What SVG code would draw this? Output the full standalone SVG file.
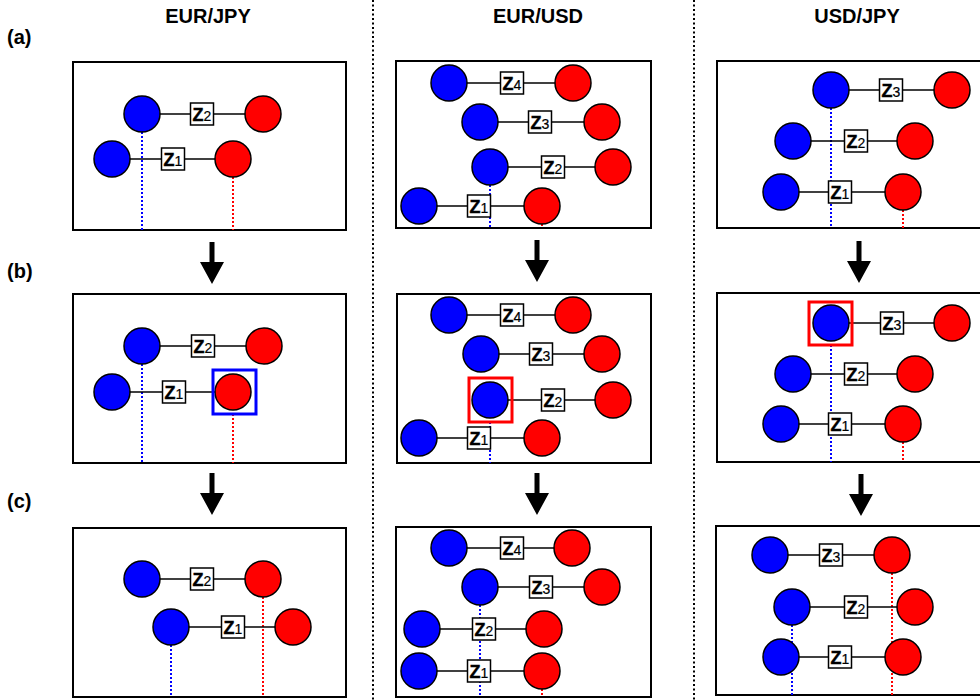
<svg xmlns="http://www.w3.org/2000/svg" xmlns:xlink="http://www.w3.org/1999/xlink" width="980" height="700" viewBox="0 0 980 700">
<style>
.b{fill:#0000ff;stroke:#000;stroke-width:1.5}
.r{fill:#ff0000;stroke:#000;stroke-width:1.5}
.zb{fill:#fff;stroke:#000;stroke-width:1.5}
.zt{font-family:"Liberation Sans",Arial,sans-serif;font-weight:bold;font-size:18px;text-anchor:middle;fill:#000;stroke:#000;stroke-width:0.4}
.zd{font-weight:normal;font-size:14px;stroke-width:0.2}
.ln{stroke:#000;stroke-width:1.5;fill:none}
.db{stroke:#0000ff;stroke-width:2;stroke-dasharray:2 2;fill:none}
.dr{stroke:#ff0000;stroke-width:2;stroke-dasharray:2 2;fill:none}
.panel{fill:none;stroke:#000;stroke-width:2}
.div{stroke:#000;stroke-width:2;stroke-dasharray:2 2.5;fill:none}
.hb{fill:none;stroke:#0000ff;stroke-width:3}
.hr{fill:none;stroke:#ff0000;stroke-width:3}
.hd{font-family:"Liberation Sans",Arial,sans-serif;font-weight:bold;font-size:20px;text-anchor:middle;fill:#000}
.lb{font-family:"Liberation Sans",Arial,sans-serif;font-weight:bold;font-size:20px;fill:#000}
.arr{fill:#000}
</style>
<defs>
<path id="arrow" class="arr" d="M-2.5,-42 H2.5 V-22 H12 L0,0 L-12,-22 H-2.5 Z"/>
</defs>
<rect x="0" y="0" width="980" height="700" fill="#fff"/>

<g id="dividers">
<line class="div" x1="373" y1="0" x2="373" y2="700"/>
<line class="div" x1="694" y1="0" x2="694" y2="700"/>
</g>

<g id="headers">
<text class="hd" x="208" y="23">EUR/JPY</text>
<text class="hd" x="538" y="23">EUR/USD</text>
<text class="hd" x="857" y="23">USD/JPY</text>
<text class="lb" x="7" y="44">(a)</text>
<text class="lb" x="7" y="278">(b)</text>
<text class="lb" x="7" y="508">(c)</text>
</g>

<g id="panels">
<rect class="panel" x="73" y="62" width="273" height="168"/>
<rect class="panel" x="396" y="61" width="255" height="167"/>
<rect class="panel" x="717" y="61" width="275" height="167"/>
<rect class="panel" x="73" y="294" width="273" height="169"/>
<rect class="panel" x="397" y="294" width="254" height="169"/>
<rect class="panel" x="717" y="293" width="275" height="169"/>
<rect class="panel" x="73" y="528" width="273" height="169"/>
<rect class="panel" x="396" y="527" width="255" height="170"/>
<rect class="panel" x="716" y="526" width="276" height="169"/>
</g>

<g id="connectors">
<use xlink:href="#arrow" transform="translate(212,284)"/>
<use xlink:href="#arrow" transform="translate(537,282)"/>
<use xlink:href="#arrow" transform="translate(859,283)"/>
<use xlink:href="#arrow" transform="translate(212,515)"/>
<use xlink:href="#arrow" transform="translate(537,515)"/>
<use xlink:href="#arrow" transform="translate(861,516)"/>
<line class="db" x1="142" y1="132" x2="142" y2="230"/>
<line class="dr" x1="233" y1="177" x2="233" y2="230"/>
<line class="db" x1="490" y1="185" x2="490" y2="228"/>
<line class="dr" x1="542" y1="224" x2="542" y2="228"/>
<line class="db" x1="831" y1="108" x2="831" y2="228"/>
<line class="dr" x1="903" y1="210" x2="903" y2="228"/>
<line class="db" x1="142" y1="364" x2="142" y2="463"/>
<line class="dr" x1="233" y1="414" x2="233" y2="463"/>
<line class="db" x1="490" y1="422" x2="490" y2="463"/>
<line class="db" x1="831" y1="345" x2="831" y2="462"/>
<line class="dr" x1="903" y1="442" x2="903" y2="462"/>
<line class="dr" x1="263" y1="597" x2="263" y2="697"/>
<line class="db" x1="171" y1="645" x2="171" y2="697"/>
<line class="db" x1="480" y1="605" x2="480" y2="697"/>
<line class="dr" x1="542" y1="689" x2="542" y2="697"/>
<line class="dr" x1="892" y1="573" x2="892" y2="695"/>
<line class="db" x1="792" y1="625" x2="792" y2="695"/>
<line class="ln" x1="142" y1="114" x2="263" y2="114"/>
<line class="ln" x1="112" y1="159" x2="233" y2="159"/>
<line class="ln" x1="449" y1="83" x2="573" y2="83"/>
<line class="ln" x1="480" y1="122" x2="602" y2="122"/>
<line class="ln" x1="490" y1="167" x2="613" y2="167"/>
<line class="ln" x1="419" y1="206" x2="542" y2="206"/>
<line class="ln" x1="831" y1="90" x2="952" y2="90"/>
<line class="ln" x1="793" y1="141" x2="915" y2="141"/>
<line class="ln" x1="781" y1="192" x2="903" y2="192"/>
<line class="ln" x1="142" y1="346" x2="264" y2="346"/>
<line class="ln" x1="112" y1="392" x2="233" y2="392"/>
<line class="ln" x1="449" y1="315" x2="573" y2="315"/>
<line class="ln" x1="481" y1="354" x2="602" y2="354"/>
<line class="ln" x1="490" y1="400" x2="613" y2="400"/>
<line class="ln" x1="419" y1="438" x2="542" y2="438"/>
<line class="ln" x1="831" y1="323" x2="952" y2="323"/>
<line class="ln" x1="793" y1="374" x2="915" y2="374"/>
<line class="ln" x1="781" y1="424" x2="903" y2="424"/>
<line class="ln" x1="142" y1="579" x2="263" y2="579"/>
<line class="ln" x1="171" y1="627" x2="293" y2="627"/>
<line class="ln" x1="449" y1="548" x2="572" y2="548"/>
<line class="ln" x1="480" y1="587" x2="602" y2="587"/>
<line class="ln" x1="422" y1="629" x2="544" y2="629"/>
<line class="ln" x1="419" y1="671" x2="542" y2="671"/>
<line class="ln" x1="770" y1="555" x2="892" y2="555"/>
<line class="ln" x1="792" y1="607" x2="915" y2="607"/>
<line class="ln" x1="781" y1="657" x2="903" y2="657"/>
</g>

<g id="a-jpy-z2"><circle class="b" cx="142" cy="114" r="18"/><rect class="zb" x="190.5" y="103" width="23" height="22"/><text class="zt" x="202" y="120.5">Z<tspan class="zd">2</tspan></text><circle class="r" cx="263" cy="114" r="18"/></g>
<g id="a-jpy-z1"><circle class="b" cx="112" cy="159" r="18"/><rect class="zb" x="161.5" y="148" width="23" height="22"/><text class="zt" x="173" y="165.5">Z<tspan class="zd">1</tspan></text><circle class="r" cx="233" cy="159" r="18"/></g>
<g id="a-usd-z4"><circle class="b" cx="449" cy="83" r="18"/><rect class="zb" x="500.5" y="72" width="23" height="22"/><text class="zt" x="512" y="89.5">Z<tspan class="zd">4</tspan></text><circle class="r" cx="573" cy="83" r="18"/></g>
<g id="a-usd-z3"><circle class="b" cx="480" cy="122" r="18"/><rect class="zb" x="528.5" y="111" width="23" height="22"/><text class="zt" x="540" y="128.5">Z<tspan class="zd">3</tspan></text><circle class="r" cx="602" cy="122" r="18"/></g>
<g id="a-usd-z2"><circle class="b" cx="490" cy="167" r="18"/><rect class="zb" x="541.5" y="156" width="23" height="22"/><text class="zt" x="553" y="173.5">Z<tspan class="zd">2</tspan></text><circle class="r" cx="613" cy="167" r="18"/></g>
<g id="a-usd-z1"><circle class="b" cx="419" cy="206" r="18"/><rect class="zb" x="467.5" y="195" width="23" height="22"/><text class="zt" x="479" y="212.5">Z<tspan class="zd">1</tspan></text><circle class="r" cx="542" cy="206" r="18"/></g>
<g id="a-uj-z3"><circle class="b" cx="831" cy="90" r="18"/><rect class="zb" x="879.5" y="79" width="23" height="22"/><text class="zt" x="891" y="96.5">Z<tspan class="zd">3</tspan></text><circle class="r" cx="952" cy="90" r="18"/></g>
<g id="a-uj-z2"><circle class="b" cx="793" cy="141" r="18"/><rect class="zb" x="844.5" y="130" width="23" height="22"/><text class="zt" x="856" y="147.5">Z<tspan class="zd">2</tspan></text><circle class="r" cx="915" cy="141" r="18"/></g>
<g id="a-uj-z1"><circle class="b" cx="781" cy="192" r="18"/><rect class="zb" x="828.5" y="181" width="23" height="22"/><text class="zt" x="840" y="198.5">Z<tspan class="zd">1</tspan></text><circle class="r" cx="903" cy="192" r="18"/></g>

<g id="b-jpy-z2"><circle class="b" cx="142" cy="346" r="18"/><rect class="zb" x="191.5" y="335" width="23" height="22"/><text class="zt" x="203" y="352.5">Z<tspan class="zd">2</tspan></text><circle class="r" cx="264" cy="346" r="18"/></g>
<g id="b-jpy-z1"><circle class="b" cx="112" cy="392" r="18"/><rect class="zb" x="162.5" y="381" width="23" height="22"/><text class="zt" x="174" y="398.5">Z<tspan class="zd">1</tspan></text><circle class="r" cx="233" cy="392" r="18"/><rect class="hb" x="213" y="370" width="43" height="44"/></g>
<g id="b-usd-z4"><circle class="b" cx="449" cy="315" r="18"/><rect class="zb" x="500.5" y="304" width="23" height="22"/><text class="zt" x="512" y="321.5">Z<tspan class="zd">4</tspan></text><circle class="r" cx="573" cy="315" r="18"/></g>
<g id="b-usd-z3"><circle class="b" cx="481" cy="354" r="18"/><rect class="zb" x="529.5" y="343" width="23" height="22"/><text class="zt" x="541" y="360.5">Z<tspan class="zd">3</tspan></text><circle class="r" cx="602" cy="354" r="18"/></g>
<g id="b-usd-z2"><circle class="b" cx="490" cy="400" r="18"/><rect class="zb" x="541.5" y="389" width="23" height="22"/><text class="zt" x="553" y="406.5">Z<tspan class="zd">2</tspan></text><circle class="r" cx="613" cy="400" r="18"/><rect class="hr" x="469" y="378" width="43" height="44"/></g>
<g id="b-usd-z1"><circle class="b" cx="419" cy="438" r="18"/><rect class="zb" x="467.5" y="427" width="23" height="22"/><text class="zt" x="479" y="444.5">Z<tspan class="zd">1</tspan></text><circle class="r" cx="542" cy="438" r="18"/></g>
<g id="b-uj-z3"><circle class="b" cx="831" cy="323" r="18"/><rect class="zb" x="880.5" y="312" width="23" height="22"/><text class="zt" x="892" y="329.5">Z<tspan class="zd">3</tspan></text><circle class="r" cx="952" cy="323" r="18"/><rect class="hr" x="809" y="302" width="43" height="43"/></g>
<g id="b-uj-z2"><circle class="b" cx="793" cy="374" r="18"/><rect class="zb" x="844.5" y="363" width="23" height="22"/><text class="zt" x="856" y="380.5">Z<tspan class="zd">2</tspan></text><circle class="r" cx="915" cy="374" r="18"/></g>
<g id="b-uj-z1"><circle class="b" cx="781" cy="424" r="18"/><rect class="zb" x="828.5" y="413" width="23" height="22"/><text class="zt" x="840" y="430.5">Z<tspan class="zd">1</tspan></text><circle class="r" cx="903" cy="424" r="18"/></g>

<g id="c-jpy-z2"><circle class="b" cx="142" cy="579" r="18"/><rect class="zb" x="190.5" y="568" width="23" height="22"/><text class="zt" x="202" y="585.5">Z<tspan class="zd">2</tspan></text><circle class="r" cx="263" cy="579" r="18"/></g>
<g id="c-jpy-z1"><circle class="b" cx="171" cy="627" r="18"/><rect class="zb" x="221.5" y="616" width="23" height="22"/><text class="zt" x="233" y="633.5">Z<tspan class="zd">1</tspan></text><circle class="r" cx="293" cy="627" r="18"/></g>
<g id="c-usd-z4"><circle class="b" cx="449" cy="548" r="18"/><rect class="zb" x="500.5" y="537" width="23" height="22"/><text class="zt" x="512" y="554.5">Z<tspan class="zd">4</tspan></text><circle class="r" cx="572" cy="548" r="18"/></g>
<g id="c-usd-z3"><circle class="b" cx="480" cy="587" r="18"/><rect class="zb" x="529.5" y="576" width="23" height="22"/><text class="zt" x="541" y="593.5">Z<tspan class="zd">3</tspan></text><circle class="r" cx="602" cy="587" r="18"/></g>
<g id="c-usd-z2"><circle class="b" cx="422" cy="629" r="18"/><rect class="zb" x="472.5" y="618" width="23" height="22"/><text class="zt" x="484" y="635.5">Z<tspan class="zd">2</tspan></text><circle class="r" cx="544" cy="629" r="18"/></g>
<g id="c-usd-z1"><circle class="b" cx="419" cy="671" r="18"/><rect class="zb" x="467.5" y="660" width="23" height="22"/><text class="zt" x="479" y="677.5">Z<tspan class="zd">1</tspan></text><circle class="r" cx="542" cy="671" r="18"/></g>
<g id="c-uj-z3"><circle class="b" cx="770" cy="555" r="18"/><rect class="zb" x="819.5" y="544" width="23" height="22"/><text class="zt" x="831" y="561.5">Z<tspan class="zd">3</tspan></text><circle class="r" cx="892" cy="555" r="18"/></g>
<g id="c-uj-z2"><circle class="b" cx="792" cy="607" r="18"/><rect class="zb" x="844.5" y="596" width="23" height="22"/><text class="zt" x="856" y="613.5">Z<tspan class="zd">2</tspan></text><circle class="r" cx="915" cy="607" r="18"/></g>
<g id="c-uj-z1"><circle class="b" cx="781" cy="657" r="18"/><rect class="zb" x="828.5" y="646" width="23" height="22"/><text class="zt" x="840" y="663.5">Z<tspan class="zd">1</tspan></text><circle class="r" cx="903" cy="657" r="18"/></g>
</svg>
